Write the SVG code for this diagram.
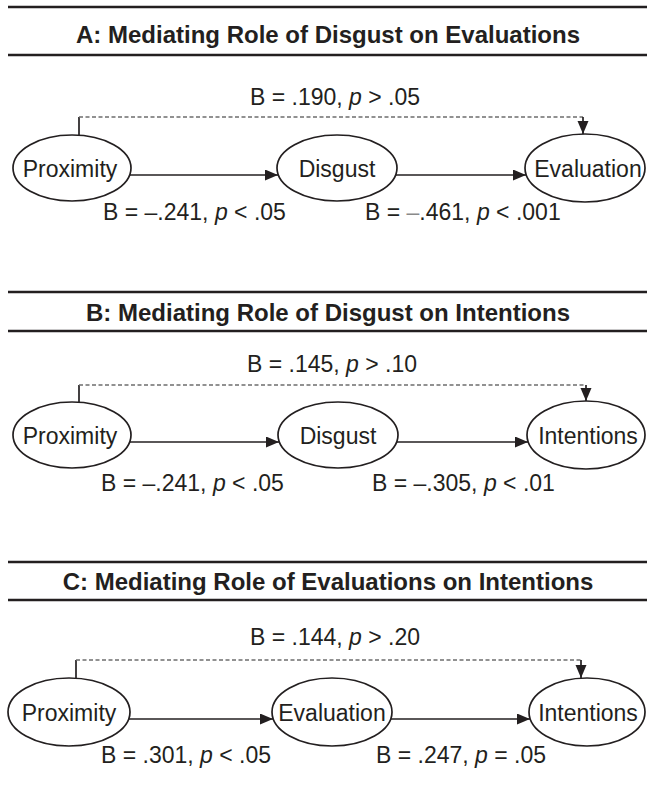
<svg xmlns="http://www.w3.org/2000/svg" width="647" height="787" viewBox="0 0 647 787">
<defs>
<marker id="ah" markerUnits="userSpaceOnUse" markerWidth="14" markerHeight="12" refX="13" refY="5.5" orient="auto">
<path d="M0,0 L13,5.5 L0,11 Z" fill="#231f20"/>
</marker>
<style>
.rule{stroke:#231f20;stroke-width:2.5}
.title{font-family:"Liberation Sans",Arial,sans-serif;font-weight:bold;font-size:24px;fill:#231f20;text-anchor:middle}
.lbl{font-family:"Liberation Sans",Arial,sans-serif;font-size:23px;fill:#231f20}
.lbl .i{font-style:italic}
.lbl .g{fill:#8a8a8a}
.node ellipse{fill:#fff;stroke:#231f20;stroke-width:1.7}
.node text{font-family:"Liberation Sans",Arial,sans-serif;font-size:23px;fill:#231f20;text-anchor:middle}
.solid{stroke:#231f20;stroke-width:1.7;fill:none}
.arr{marker-end:url(#ah)}
.dash{stroke:#6d6d6d;stroke-width:1.4;stroke-dasharray:4 2.5;fill:none}
</style>
</defs>
<rect width="647" height="787" fill="#fff"/>

<!-- Panel A -->
<g id="panelA-header">
<line class="rule" x1="8" y1="7" x2="647" y2="7"/>
<text class="title" x="328" y="43">A: Mediating Role of Disgust on Evaluations</text>
<line class="rule" x1="8" y1="55" x2="647" y2="55"/>
</g>
<g id="A-proximity" class="node"><ellipse cx="72" cy="168" rx="59" ry="33"/><text x="70" y="177">Proximity</text></g>
<g id="A-disgust" class="node"><ellipse cx="337" cy="168" rx="60" ry="33"/><text x="337" y="177">Disgust</text></g>
<g id="A-evaluation" class="node"><ellipse cx="585" cy="168" rx="60" ry="34"/><text x="588" y="177">Evaluation</text></g>
<g id="A-connectors">
<path class="solid" d="M79,135 V117"/>
<path class="dash" d="M79,117 H583"/>
<path class="solid arr" d="M583,117 V134"/>
<path class="solid arr" d="M130,175 H278"/>
<path class="solid arr" d="M396,175 H526"/>
</g>
<g id="A-labels">
<text class="lbl" x="250" y="105">B = .190, <tspan class="i">p</tspan> &gt; .05</text>
<text class="lbl" x="103" y="220">B = –.241, <tspan class="i">p</tspan> &lt; .05</text>
<text class="lbl" x="365" y="220">B = <tspan class="g">–</tspan>.461, <tspan class="i">p</tspan> &lt; .001</text>
</g>

<!-- Panel B -->
<g id="panelB-header">
<line class="rule" x1="8" y1="292" x2="647" y2="292"/>
<text class="title" x="328" y="321">B: Mediating Role of Disgust on Intentions</text>
<line class="rule" x1="8" y1="331" x2="647" y2="331"/>
</g>
<g id="B-proximity" class="node"><ellipse cx="72" cy="435" rx="59" ry="33"/><text x="70" y="444">Proximity</text></g>
<g id="B-disgust" class="node"><ellipse cx="338" cy="435" rx="60" ry="33"/><text x="338" y="444">Disgust</text></g>
<g id="B-intentions" class="node"><ellipse cx="586" cy="435" rx="59" ry="34"/><text x="588" y="444">Intentions</text></g>
<g id="B-connectors">
<path class="solid" d="M79,402 V385"/>
<path class="dash" d="M79,385 H586"/>
<path class="solid arr" d="M586,385 V401"/>
<path class="solid arr" d="M130,442 H279"/>
<path class="solid arr" d="M397,442 H528"/>
</g>
<g id="B-labels">
<text class="lbl" x="247" y="372">B = .145, <tspan class="i">p</tspan> &gt; .10</text>
<text class="lbl" x="101" y="491">B = –.241, <tspan class="i">p</tspan> &lt; .05</text>
<text class="lbl" x="372" y="491">B = –.305, <tspan class="i">p</tspan> &lt; .01</text>
</g>

<!-- Panel C -->
<g id="panelC-header">
<line class="rule" x1="8" y1="562" x2="647" y2="562"/>
<text class="title" x="328" y="590">C: Mediating Role of Evaluations on Intentions</text>
<line class="rule" x1="8" y1="600" x2="647" y2="600"/>
</g>
<g id="C-proximity" class="node"><ellipse cx="69" cy="712" rx="61" ry="34"/><text x="69" y="721">Proximity</text></g>
<g id="C-evaluation" class="node"><ellipse cx="332" cy="712" rx="60" ry="34"/><text x="332" y="721">Evaluation</text></g>
<g id="C-intentions" class="node"><ellipse cx="587" cy="712" rx="58" ry="34"/><text x="588" y="721">Intentions</text></g>
<g id="C-connectors">
<path class="solid" d="M76,678 V660"/>
<path class="dash" d="M76,660 H581"/>
<path class="solid arr" d="M581,660 V678"/>
<path class="solid arr" d="M129,719 H273"/>
<path class="solid arr" d="M391,719 H530"/>
</g>
<g id="C-labels">
<text class="lbl" x="250" y="645">B = .144, <tspan class="i">p</tspan> &gt; .20</text>
<text class="lbl" x="101" y="763">B = .301, <tspan class="i">p</tspan> &lt; .05</text>
<text class="lbl" x="376" y="763">B = .247, <tspan class="i">p</tspan> = .05</text>
</g>
</svg>
